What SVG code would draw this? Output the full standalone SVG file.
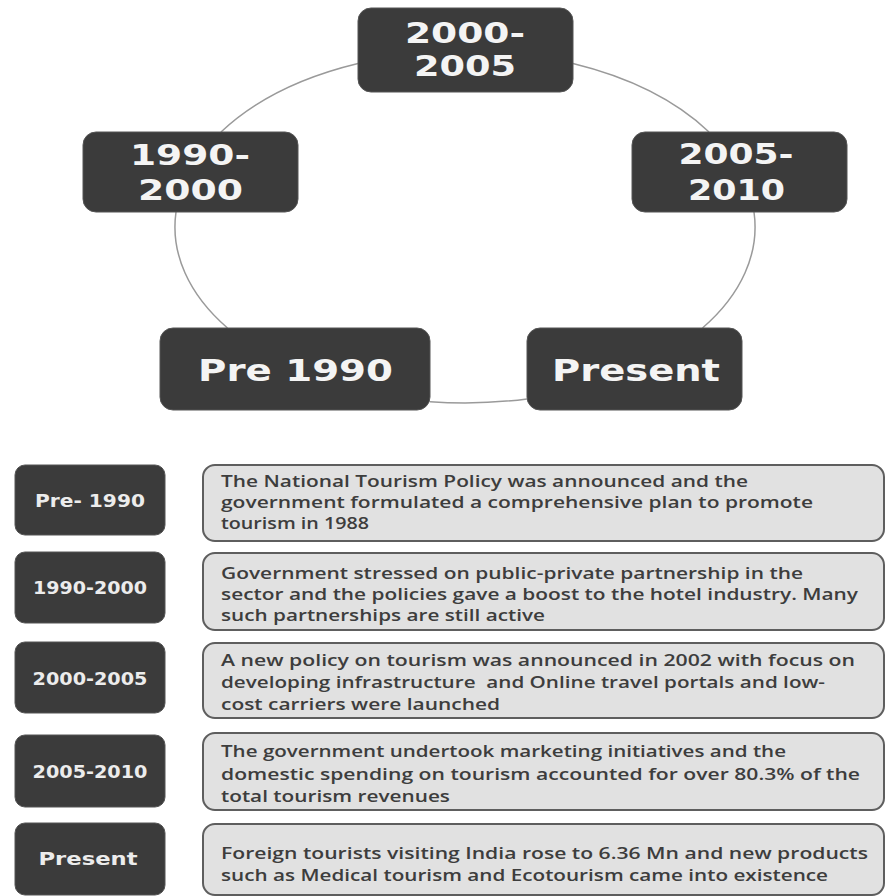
<svg xmlns="http://www.w3.org/2000/svg" width="886" height="896" viewBox="0 0 886 896">
<style>
.bg{fill:#ffffff}
.node{fill:#3b3b3b;stroke:#555;stroke-width:1}
.big{font-family:"DejaVu Sans",Verdana,sans-serif;font-weight:bold;font-size:29px;fill:#f4f4f4;text-anchor:middle}
.big1{font-size:31px}
.lab{font-family:"DejaVu Sans",Verdana,sans-serif;font-weight:bold;font-size:17px;fill:#ececec;text-anchor:middle}
.desc{fill:#e1e1e1;stroke:#5e5e5e;stroke-width:2}
.txt{font-family:"Open Sans","Liberation Sans",sans-serif;font-weight:600;font-size:16.5px;fill:#3d3d3d;white-space:pre}
.arc{fill:none;stroke:#9a9a9a;stroke-width:1.5}
</style>
<rect class="bg" x="0" y="0" width="886" height="896"/>
<g id="connectors">
<path class="arc" d="M358,63.5 A290,176 0 0 0 221,132"/>
<path class="arc" d="M176,212 A290,176 0 0 0 227.5,328"/>
<path class="arc" d="M430,401.7 A290,176 0 0 0 527,398.9"/>
<path class="arc" d="M702.5,328 A290,176 0 0 0 754,212"/>
<path class="arc" d="M709,132 A290,176 0 0 0 573,63.6"/>
</g>
<g id="n2000">
<rect class="node" x="358" y="8" width="215" height="84" rx="13"/>
<text class="big" x="465" y="43" textLength="120" lengthAdjust="spacingAndGlyphs">2000-</text>
<text class="big" x="465" y="76" textLength="102" lengthAdjust="spacingAndGlyphs">2005</text>
</g>
<g id="n1990">
<rect class="node" x="83" y="132" width="215" height="80" rx="13"/>
<text class="big" x="190" y="165" textLength="120" lengthAdjust="spacingAndGlyphs">1990-</text>
<text class="big" x="190.5" y="200" textLength="105" lengthAdjust="spacingAndGlyphs">2000</text>
</g>
<g id="n2005">
<rect class="node" x="632" y="132" width="215" height="80" rx="13"/>
<text class="big" x="736" y="164" textLength="115" lengthAdjust="spacingAndGlyphs">2005-</text>
<text class="big" x="736.5" y="200" textLength="97" lengthAdjust="spacingAndGlyphs">2010</text>
</g>
<g id="npre">
<rect class="node" x="160" y="328" width="270" height="82" rx="13"/>
<text class="big big1" x="295.5" y="381" textLength="195" lengthAdjust="spacingAndGlyphs">Pre 1990</text>
</g>
<g id="npresent">
<rect class="node" x="527" y="328" width="215" height="82" rx="13"/>
<text class="big big1" x="636" y="381" textLength="168" lengthAdjust="spacingAndGlyphs">Present</text>
</g>
<g id="row1">
<rect class="node" x="15" y="465" width="150" height="70" rx="10"/>
<text class="lab" x="90" y="507" textLength="110" lengthAdjust="spacingAndGlyphs">Pre- 1990</text>
<rect class="desc" x="203" y="465" width="681" height="76" rx="12"/>
<text class="txt" x="221" y="487" textLength="527" lengthAdjust="spacingAndGlyphs">The National Tourism Policy was announced and the</text>
<text class="txt" x="221" y="508" textLength="592" lengthAdjust="spacingAndGlyphs">government formulated a comprehensive plan to promote</text>
<text class="txt" x="221" y="529" textLength="148" lengthAdjust="spacingAndGlyphs">tourism in 1988</text>
</g>
<g id="row2">
<rect class="node" x="15" y="552" width="150" height="71" rx="10"/>
<text class="lab" x="90" y="594" textLength="114" lengthAdjust="spacingAndGlyphs">1990-2000</text>
<rect class="desc" x="203" y="553" width="681" height="77" rx="12"/>
<text class="txt" x="221" y="579" textLength="582" lengthAdjust="spacingAndGlyphs">Government stressed on public-private partnership in the</text>
<text class="txt" x="221" y="600" textLength="637" lengthAdjust="spacingAndGlyphs">sector and the policies gave a boost to the hotel industry. Many</text>
<text class="txt" x="221" y="621" textLength="324" lengthAdjust="spacingAndGlyphs">such partnerships are still active</text>
</g>
<g id="row3">
<rect class="node" x="15" y="642" width="150" height="71" rx="10"/>
<text class="lab" x="90" y="685" textLength="115" lengthAdjust="spacingAndGlyphs">2000-2005</text>
<rect class="desc" x="203" y="643" width="681" height="75" rx="12"/>
<text class="txt" x="221" y="666" textLength="634" lengthAdjust="spacingAndGlyphs">A new policy on tourism was announced in 2002 with focus on</text>
<text class="txt" x="221" y="688" textLength="604" lengthAdjust="spacingAndGlyphs" xml:space="preserve">developing infrastructure  and Online travel portals and low-</text>
<text class="txt" x="221" y="710" textLength="279" lengthAdjust="spacingAndGlyphs">cost carriers were launched</text>
</g>
<g id="row4">
<rect class="node" x="15" y="735" width="150" height="72" rx="10"/>
<text class="lab" x="90" y="778" textLength="115" lengthAdjust="spacingAndGlyphs">2005-2010</text>
<rect class="desc" x="203" y="733" width="681" height="77" rx="12"/>
<text class="txt" x="221" y="757" textLength="565" lengthAdjust="spacingAndGlyphs">The government undertook marketing initiatives and the</text>
<text class="txt" x="221" y="780" textLength="639" lengthAdjust="spacingAndGlyphs">domestic spending on tourism accounted for over 80.3% of the</text>
<text class="txt" x="221" y="802" textLength="229" lengthAdjust="spacingAndGlyphs">total tourism revenues</text>
</g>
<g id="row5">
<rect class="node" x="15" y="823" width="150" height="72" rx="10"/>
<text class="lab" x="88" y="865" textLength="99" lengthAdjust="spacingAndGlyphs">Present</text>
<rect class="desc" x="203" y="824" width="681" height="71" rx="12"/>
<text class="txt" x="221" y="859" textLength="647" lengthAdjust="spacingAndGlyphs">Foreign tourists visiting India rose to 6.36 Mn and new products</text>
<text class="txt" x="221" y="881" textLength="607" lengthAdjust="spacingAndGlyphs">such as Medical tourism and Ecotourism came into existence</text>
</g>
</svg>
